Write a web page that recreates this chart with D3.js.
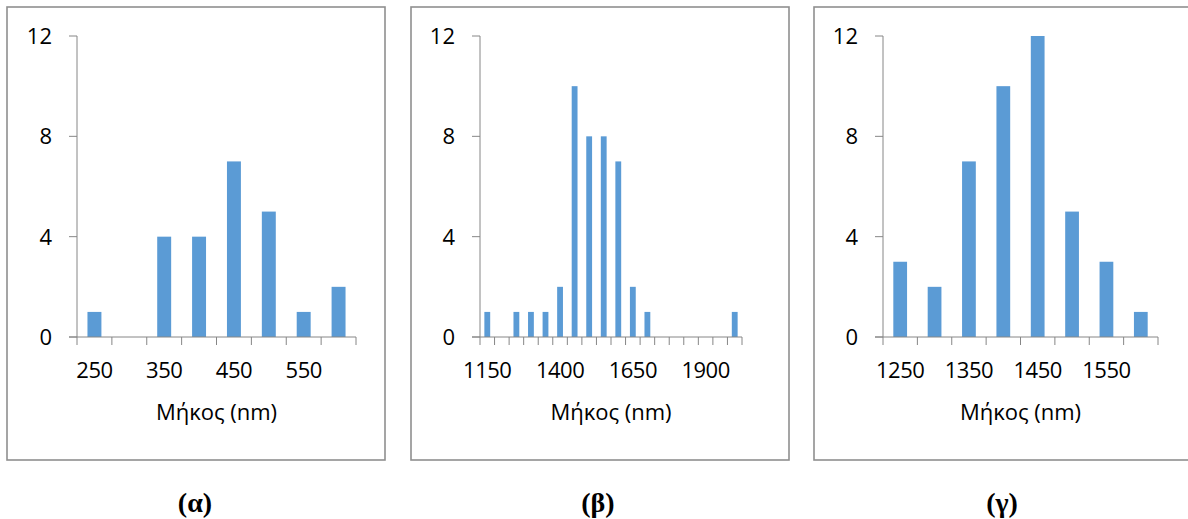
<!DOCTYPE html>
<html>
<head>
<meta charset="utf-8">
<script src="https://cdn.jsdelivr.net/npm/d3@7"></script>
<style>
  body { margin: 0; background: #fff; }
  svg { display: block; }
  text.sans { font-family: "Open Sans", "Noto Sans", sans-serif; fill: #000; }
  text.cap { font-family: "Liberation Serif", "DejaVu Serif", serif; fill: #000; }
</style>
</head>
<body>
<svg id="chart" width="1188" height="519"></svg>
<script>
var W = 1188, H = 519;

// panel (α)
var catsA = ["250", "300", "350", "400", "450", "500", "550", "600"];
var valsA = [1, 0, 4, 4, 7, 5, 1, 2];
// panel (β)
var catsB = ["1150", "1200", "1250", "1300", "1350", "1400", "1450", "1500", "1550",
             "1600", "1650", "1700", "1750", "1800", "1850", "1900", "1950", "2000"];
var valsB = [1, 0, 1, 1, 1, 2, 10, 8, 8, 7, 2, 1, 0, 0, 0, 0, 0, 1];
// panel (γ)
var catsC = ["1250", "1300", "1350", "1400", "1450", "1500", "1550", "1600"];
var valsC = [3, 2, 7, 10, 12, 5, 3, 1];

var yTicks = [0, 4, 8, 12];
var xTitle = "Μήκος (nm)";
var captions = ["(α)", "(β)", "(γ)"];

var panels = [
  { cats: catsA, vals: valsA, every: 2, box: [7, 385], axis: [77, 356], cap: 195 },
  { cats: catsB, vals: valsB, every: 5, box: [411, 789], axis: [480, 742], cap: 598 },
  { cats: catsC, vals: valsC, every: 2, box: [814, 1190], axis: [883, 1158], cap: 1002 }
];

var svg = d3.select("#chart");
var y = d3.scaleLinear().domain([0, 12]).range([337, 36]);
var axisCol = "#868686";

panels.forEach(function(p, k) {
  var g = svg.append("g");

  g.append("rect")
    .attr("x", p.box[0]).attr("y", 7)
    .attr("width", p.box[1] - p.box[0]).attr("height", 453)
    .attr("fill", "none").attr("stroke", "#8f8f8f").attr("stroke-width", 1.6);

  var x = d3.scaleBand().domain(p.cats).range(p.axis)
    .paddingInner(0.6).paddingOuter(0.3);
  var step = x.step();

  g.selectAll("rect.bar")
    .data(p.vals)
    .enter().append("rect")
      .attr("class", "bar")
      .attr("x", function(d, i) { return x(p.cats[i]); })
      .attr("y", function(d) { return y(d); })
      .attr("width", x.bandwidth())
      .attr("height", function(d) { return y(0) - y(d); })
      .attr("fill", "#5b9bd5");

  // y axis
  g.append("line")
    .attr("x1", p.axis[0]).attr("x2", p.axis[0])
    .attr("y1", y(12)).attr("y2", y(0))
    .attr("stroke", axisCol).attr("stroke-width", 1);
  g.selectAll("line.yt")
    .data(yTicks).enter().append("line")
      .attr("x1", p.axis[0] - 8).attr("x2", p.axis[0])
      .attr("y1", function(d) { return y(d); })
      .attr("y2", function(d) { return y(d); })
      .attr("stroke", axisCol);
  g.selectAll("text.yl")
    .data(yTicks).enter().append("text")
      .attr("class", "sans")
      .attr("x", p.axis[0] - 25)
      .attr("y", function(d) { return y(d); })
      .attr("dy", "0.36em")
      .attr("text-anchor", "end")
      .attr("font-size", 22)
      .text(function(d) { return d; });

  // x axis with boundary ticks
  g.append("line")
    .attr("x1", p.axis[0] - 8).attr("x2", p.axis[1])
    .attr("y1", y(0)).attr("y2", y(0))
    .attr("stroke", axisCol);
  var bounds = d3.range(p.cats.length + 1);
  g.selectAll("line.xt")
    .data(bounds).enter().append("line")
      .attr("x1", function(i) { return p.axis[0] + i * step; })
      .attr("x2", function(i) { return p.axis[0] + i * step; })
      .attr("y1", y(0)).attr("y2", y(0) + 8)
      .attr("stroke", axisCol);
  g.selectAll("text.xl")
    .data(p.cats.filter(function(c, i) { return i % p.every === 0; }))
    .enter().append("text")
      .attr("class", "sans")
      .attr("x", function(c) { return x(c) + x.bandwidth() / 2; })
      .attr("y", 370)
      .attr("dy", "0.36em")
      .attr("text-anchor", "middle")
      .attr("font-size", 22)
      .attr("letter-spacing", -0.5)
      .text(function(c) { return c; });

  g.append("text")
    .attr("class", "sans")
    .attr("x", (p.axis[0] + p.axis[1]) / 2)
    .attr("y", 412)
    .attr("dy", "0.36em")
    .attr("text-anchor", "middle")
    .attr("font-size", 22)
    .text(xTitle);

  svg.append("text")
    .attr("class", "cap")
    .attr("x", p.cap)
    .attr("y", 512)
    .attr("text-anchor", "middle")
    .attr("font-size", 28)
    .attr("font-weight", "bold")
    .text(captions[k]);
});
</script>
</body>
</html>
